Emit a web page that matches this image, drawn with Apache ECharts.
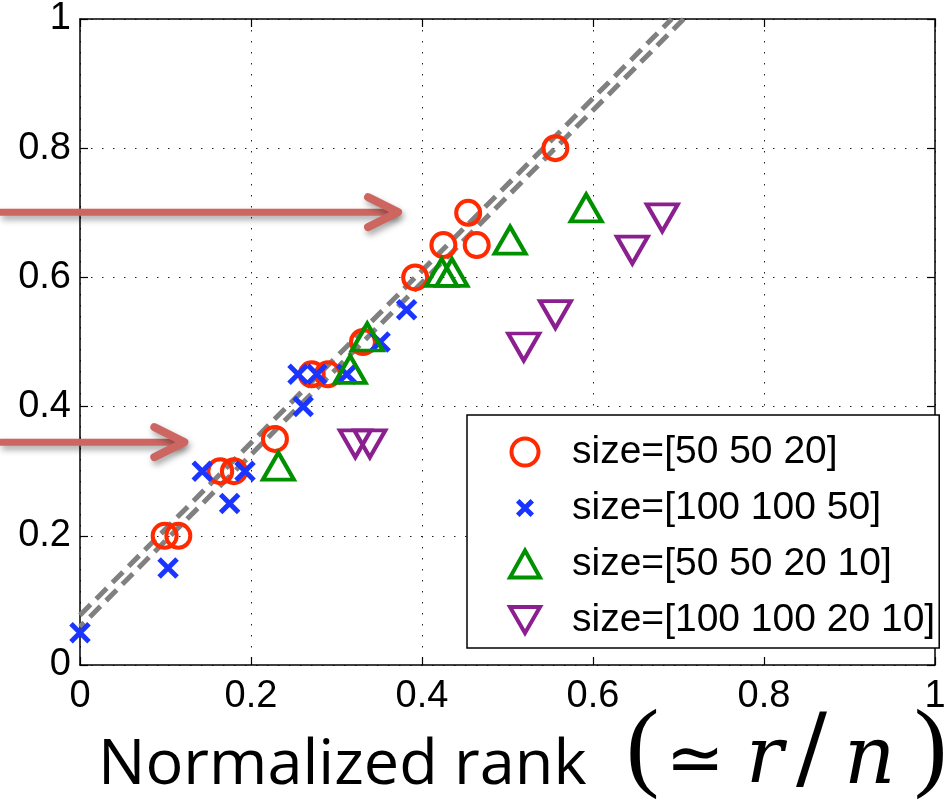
<!DOCTYPE html>
<html><head><meta charset="utf-8">
<script src="https://cdn.jsdelivr.net/npm/echarts@6/dist/echarts.min.js"></script>
<style>html,body{margin:0;padding:0;background:#fff}#c{width:949px;height:805px}</style>
</head><body><div id="c"></div>
<script>
// ---- data ----
const seriesNames = ['size=[50 50 20]', 'size=[100 100 50]', 'size=[50 50 20 10]', 'size=[100 100 20 10]'];
const circleX = [0.099, 0.115, 0.164, 0.180, 0.228, 0.271, 0.290, 0.331, 0.392, 0.425, 0.464, 0.454, 0.556];
const circleY = [0.20, 0.20, 0.30, 0.30, 0.35, 0.45, 0.45, 0.50, 0.60, 0.65, 0.65, 0.70, 0.80];
const crossX = [0.000, 0.103, 0.143, 0.193, 0.175, 0.255, 0.277, 0.312, 0.261, 0.351, 0.382];
const crossY = [0.05, 0.15, 0.30, 0.30, 0.25, 0.45, 0.45, 0.45, 0.40, 0.50, 0.55];
const triUpX = [0.232, 0.316, 0.336, 0.423, 0.435, 0.503, 0.592];
const triUpY = [0.30, 0.45, 0.50, 0.60, 0.60, 0.65, 0.70];
const triDownX = [0.322, 0.339, 0.519, 0.556, 0.646, 0.681];
const triDownY = [0.35, 0.35, 0.50, 0.55, 0.65, 0.70];
// reference (double dashed) line end points
const refUpperX = [0, 0.692], refUpperY = [0.077, 1];
const refLowerX = [0, 0.706], refLowerY = [0.059, 1];
// annotation arrows (data coords)
const arrowStartX = [-0.094, -0.094];
const arrowTipX = [0.372, 0.122];
const arrowY = [0.701, 0.345];
// ticks
const tickValues = [0, 0.2, 0.4, 0.6, 0.8, 1];
const tickLabels = ['0', '0.2', '0.4', '0.6', '0.8', '1'];

const RED = '#ff2a00', BLUE = '#1a35ff', GREEN = '#009000', PURPLE = '#8c1f8f';
const X_PATH = 'path://M0,0L14,14M14,0L0,14';
const X_LEGEND = 'path://M-6,-6M20,20M0,0L14,14M14,0L0,14';
const DOWN_PATH = 'path://M0,0L30,0L15,26Z';

function pairs(xs, ys) { return xs.map((x, i) => [x, ys[i]]); }
function fmt(v) { const i = tickValues.findIndex(t => Math.abs(t - v) < 1e-9); return i >= 0 ? tickLabels[i] : ''; }

const chart = echarts.init(document.getElementById('c'), null, {renderer: 'canvas'});
const labelFont = {fontSize: 38, fontFamily: 'Liberation Sans, Arial, sans-serif', color: '#000'};
const axisCommon = {
  type: 'value', min: 0, max: 1, interval: 0.2,
  axisLine: {show: true, onZero: false, lineStyle: {color: '#000', width: 1.5}},
  axisTick: {show: true, inside: true, length: 8, lineStyle: {color: '#000', width: 1.2}},
};
const option = {
  animation: false,
  backgroundColor: '#fff',
  grid: {left: 80, right: 14, top: 19, bottom: 140, containLabel: false},
  xAxis: [
    Object.assign({}, axisCommon, {position: 'bottom',
      axisLabel: Object.assign({margin: 13, formatter: fmt}, labelFont),
      splitLine: {show: true, lineStyle: {color: '#222', width: 1, type: [1.5, 9.5]}}}),
    Object.assign({}, axisCommon, {position: 'top', axisLabel: {show: false}, splitLine: {show: false}})
  ],
  yAxis: [
    Object.assign({}, axisCommon, {position: 'left',
      axisLabel: Object.assign({margin: 9, formatter: fmt}, labelFont),
      splitLine: {show: true, lineStyle: {color: '#222', width: 1, type: [1.5, 9.5]}}}),
    Object.assign({}, axisCommon, {position: 'right', axisLabel: {show: false}, splitLine: {show: false}})
  ],
  legend: {
    orient: 'vertical', left: 467, top: 415,
    padding: [17, 4, 8, 41], itemGap: 16, itemWidth: 30, itemHeight: 27,
    backgroundColor: '#fff', borderColor: '#000', borderWidth: 1.5, borderRadius: 0,
    selectedMode: false,
    textStyle: {fontSize: 39, fontFamily: 'Liberation Sans, Arial, sans-serif', color: '#000', lineHeight: 40, padding: [0, 0, 0, 27]},
    data: [
      {name: seriesNames[0], icon: 'circle', itemStyle: {color: 'transparent', borderColor: RED, borderWidth: 4}},
      {name: seriesNames[1], icon: X_LEGEND, itemStyle: {color: 'transparent', borderColor: BLUE, borderWidth: 5}},
      {name: seriesNames[2], icon: 'triangle', itemStyle: {color: 'transparent', borderColor: GREEN, borderWidth: 4}},
      {name: seriesNames[3], icon: DOWN_PATH, itemStyle: {color: 'transparent', borderColor: PURPLE, borderWidth: 4}}
    ]
  },
  series: [
    {type: 'line', name: 'ref1', data: pairs(refUpperX, refUpperY), symbol: 'none', silent: true, z: 1,
     lineStyle: {color: '#808080', width: 5, type: [15, 8], cap: 'butt'}},
    {type: 'line', name: 'ref2', data: pairs(refLowerX, refLowerY), symbol: 'none', silent: true, z: 1,
     lineStyle: {color: '#808080', width: 5, type: [15, 8], dashOffset: 9, cap: 'butt'}},
    {type: 'scatter', name: seriesNames[0], data: pairs(circleX, circleY), symbol: 'circle', symbolSize: 24, z: 3,
     itemStyle: {color: 'transparent', borderColor: RED, borderWidth: 4, opacity: 1}},
    {type: 'scatter', name: seriesNames[1], data: pairs(crossX, crossY), symbol: X_PATH, symbolSize: 18, z: 4,
     itemStyle: {color: 'transparent', borderColor: BLUE, borderWidth: 5, opacity: 1}},
    {type: 'scatter', name: seriesNames[2], data: pairs(triUpX, triUpY), symbol: 'triangle', symbolSize: [31, 27], symbolOffset: [0, -5], z: 5,
     itemStyle: {color: 'transparent', borderColor: GREEN, borderWidth: 4, opacity: 1}},
    {type: 'scatter', name: seriesNames[3], data: pairs(triDownX, triDownY), symbol: DOWN_PATH, symbolSize: [31, 27], symbolOffset: [0, 5], z: 6,
     itemStyle: {color: 'transparent', borderColor: PURPLE, borderWidth: 4, opacity: 1}}
  ]
};
chart.setOption(option);

// axis title (text + math part)
const titleParts = [
  {text: 'Normalized rank', x: 98, y: 766, font: '63px "Open Sans", Lato, sans-serif'},
  {text: '(', x: 626, y: 752, font: '100px "Liberation Serif", serif'},
  {text: '\u2243', x: 666, y: 764, font: '70px "DejaVu Sans", sans-serif'},
  {text: 'r', x: 746, y: 762, font: 'italic 78px "DejaVu Serif", serif'},
  {text: '/', x: 796, y: 754, font: '92px "DejaVu Serif", serif'},
  {text: 'n', x: 844, y: 762, font: 'italic 80px "DejaVu Serif", serif'},
  {text: ')', x: 914, y: 752, font: '100px "Liberation Serif", serif'}
];
const graphics = titleParts.map(p => ({
  type: 'text', x: p.x, y: p.y, z: 50,
  style: {text: p.text, font: p.font, fill: '#000', align: 'left', verticalAlign: 'middle'}
}));

// arrows through the chart's own coordinate conversion
const ARROW = '#cd6660';
const shadow = {shadowBlur: 6, shadowColor: 'rgba(0,0,0,0.35)', shadowOffsetX: 2, shadowOffsetY: 4};
arrowY.forEach((yv, i) => {
  const s = chart.convertToPixel({gridIndex: 0}, [arrowStartX[i], yv]);
  const t = chart.convertToPixel({gridIndex: 0}, [arrowTipX[i], yv]);
  graphics.push({type: 'polyline', z: 60, shape: {points: [[s[0], s[1]], [t[0] - 2, t[1]]]},
    style: Object.assign({stroke: ARROW, lineWidth: 7, fill: null, lineCap: 'butt'}, shadow)});
  graphics.push({type: 'polyline', z: 61, shape: {points: [[t[0] - 30, t[1] - 15], [t[0], t[1]], [t[0] - 30, t[1] + 15]]},
    style: Object.assign({stroke: ARROW, lineWidth: 8, fill: null, lineCap: 'round', lineJoin: 'round'}, shadow)});
});
chart.setOption({graphic: graphics});
</script></body></html>
